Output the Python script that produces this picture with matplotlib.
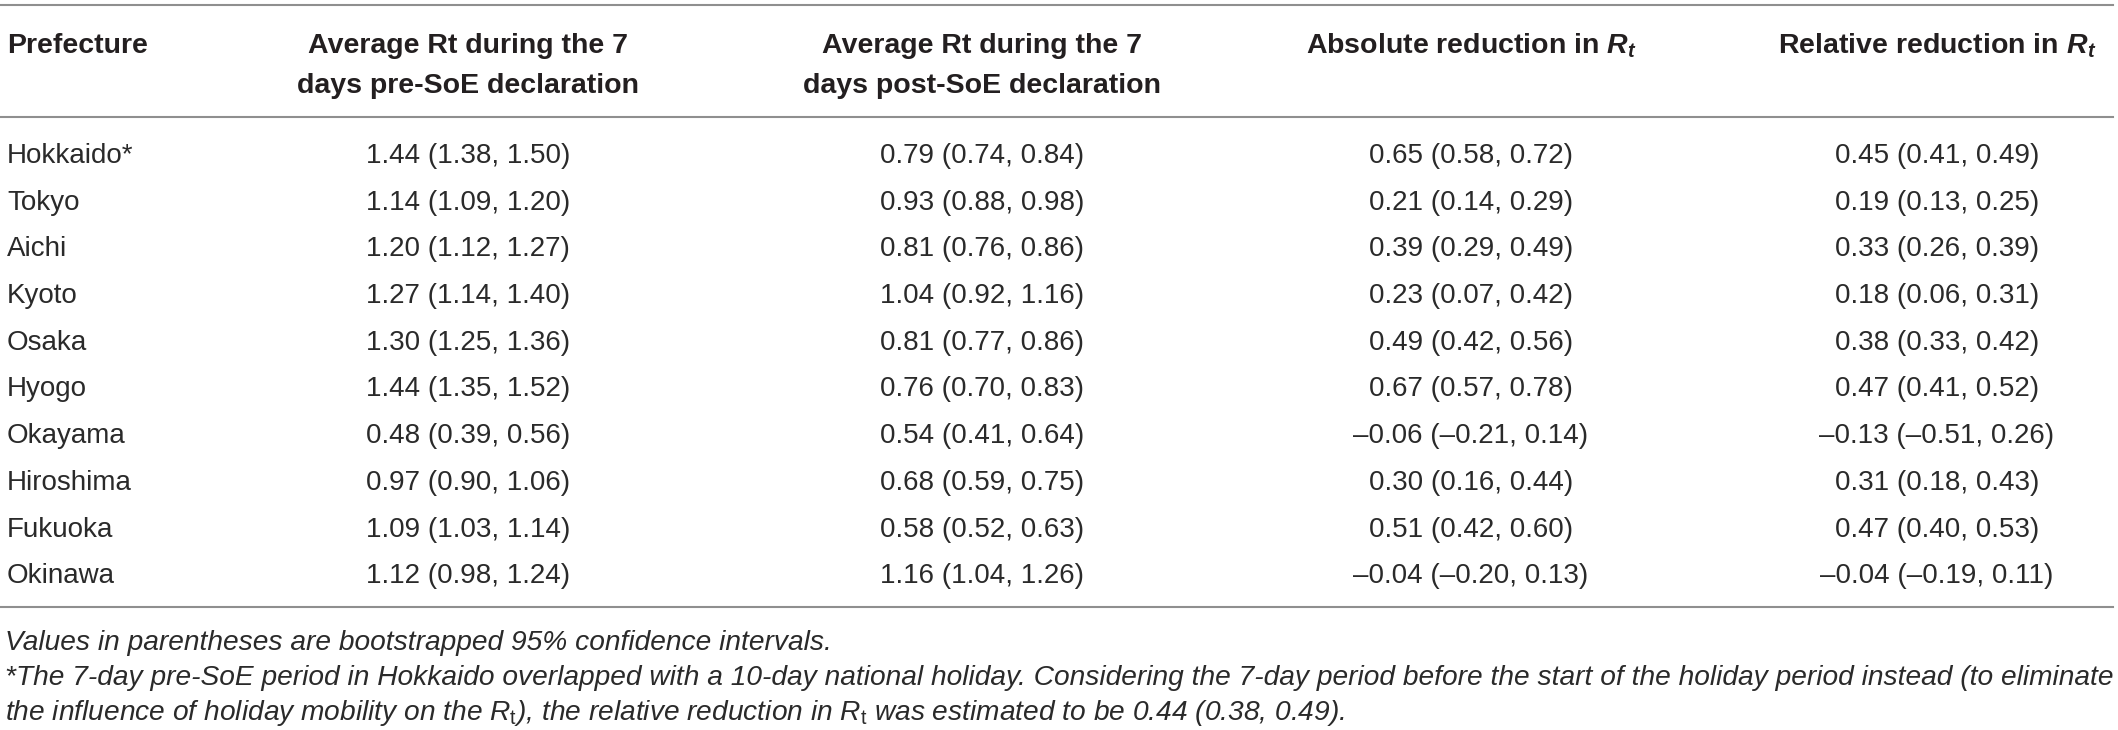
"""
Table: average Rt before/after the SoE declaration by prefecture
"""
import matplotlib.pyplot as plt
from matplotlib import font_manager

prefectures = ['Hokkaido*', 'Tokyo', 'Aichi', 'Kyoto', 'Osaka', 'Hyogo',
               'Okayama', 'Hiroshima', 'Fukuoka', 'Okinawa']
pre_rt = [1.44, 1.14, 1.20, 1.27, 1.30, 1.44, 0.48, 0.97, 1.09, 1.12]
pre_lo = [1.38, 1.09, 1.12, 1.14, 1.25, 1.35, 0.39, 0.90, 1.03, 0.98]
pre_hi = [1.50, 1.20, 1.27, 1.40, 1.36, 1.52, 0.56, 1.06, 1.14, 1.24]
post_rt = [0.79, 0.93, 0.81, 1.04, 0.81, 0.76, 0.54, 0.68, 0.58, 1.16]
post_lo = [0.74, 0.88, 0.76, 0.92, 0.77, 0.70, 0.41, 0.59, 0.52, 1.04]
post_hi = [0.84, 0.98, 0.86, 1.16, 0.86, 0.83, 0.64, 0.75, 0.63, 1.26]
abs_red = [0.65, 0.21, 0.39, 0.23, 0.49, 0.67, -0.06, 0.30, 0.51, -0.04]
abs_lo = [0.58, 0.14, 0.29, 0.07, 0.42, 0.57, -0.21, 0.16, 0.42, -0.20]
abs_hi = [0.72, 0.29, 0.49, 0.42, 0.56, 0.78, 0.14, 0.44, 0.60, 0.13]
rel_red = [0.45, 0.19, 0.33, 0.18, 0.38, 0.47, -0.13, 0.31, 0.47, -0.04]
rel_lo = [0.41, 0.13, 0.26, 0.06, 0.33, 0.41, -0.51, 0.18, 0.40, -0.19]
rel_hi = [0.49, 0.25, 0.39, 0.31, 0.42, 0.52, 0.26, 0.43, 0.53, 0.11]

headers = ['Prefecture',
           'Average Rt during the 7\ndays pre-SoE declaration',
           'Average Rt during the 7\ndays post-SoE declaration',
           r'Absolute reduction in $\mathbfit{R_t}$',
           r'Relative reduction in $\mathbfit{R_t}$']
footnotes = [
    'Values in parentheses are bootstrapped 95% confidence intervals.',
    '*The 7-day pre-SoE period in Hokkaido overlapped with a 10-day national holiday. '
    'Considering the 7-day period before the start of the holiday period instead (to eliminate',
    r'the influence of holiday mobility on the $R_\mathrm{t}$), the relative reduction in '
    r'$R_\mathrm{t}$ was estimated to be 0.44 (0.38, 0.49).',
]


def fmt(v, lo, hi):
    s = f'{v:.2f} ({lo:.2f}, {hi:.2f})'
    return s.replace('-', '\u2013')


if __name__ == "__main__":
    names = {f.name for f in font_manager.fontManager.ttflist}
    sans = 'Liberation Sans'
    narrow = 'Liberation Sans Narrow' if 'Liberation Sans Narrow' in names else sans
    plt.rcParams.update({
        'font.family': [sans, 'DejaVu Sans'],
        'mathtext.fontset': 'custom',
        'mathtext.rm': sans,
        'mathtext.it': f'{sans}:italic',
        'mathtext.bf': f'{sans}:bold',
        'mathtext.bfit': f'{sans}:italic:bold',
    })

    W, H = 2118, 730
    fig = plt.figure(figsize=(W / 100, H / 100), dpi=100)
    ax = fig.add_axes([0, 0, 1, 1])
    ax.set(xlim=(0, W), ylim=(H, 0))
    ax.axis('off')

    rule = dict(color='#8f8f8f', lw=1.5)
    for y in (5, 117, 607):
        ax.plot([0, 2113], [y, y], **rule)

    col_x = [7, 468, 982, 1471, 1937]
    head_color = '#231f20'
    txt_color = '#2a2a2a'

    # header, one text per line
    for i, h in enumerate(headers):
        for k, line in enumerate(h.split('\n')):
            ax.text(col_x[i], 53 + 40 * k, line, ha='left' if i == 0 else 'center',
                    va='baseline', fontsize=20.5, fontweight='bold', color=head_color)

    # rows
    cols = [[fmt(*t) for t in zip(pre_rt, pre_lo, pre_hi)],
            [fmt(*t) for t in zip(post_rt, post_lo, post_hi)],
            [fmt(*t) for t in zip(abs_red, abs_lo, abs_hi)],
            [fmt(*t) for t in zip(rel_red, rel_lo, rel_hi)]]
    row_y0, row_dy = 163, 46.7
    for r, name in enumerate(prefectures):
        y = row_y0 + r * row_dy
        ax.text(col_x[0], y, name, ha='left', va='baseline', fontsize=20,
                color=txt_color)
        for c in range(4):
            ax.text(col_x[c + 1], y, cols[c][r], ha='center', va='baseline',
                    fontsize=20, color=txt_color)

    # footnotes, sized so the long line fills the width
    fig.canvas.draw()
    renderer = fig.canvas.get_renderer()
    probe = ax.text(5, 685, footnotes[1], fontsize=20, style='italic',
                    family=[narrow, 'DejaVu Sans'])
    wpx = probe.get_window_extent(renderer).width
    probe.remove()
    fsize = min(21.5, 20 * 2105 / wpx)
    for y, line in zip((650, 685, 720), footnotes):
        ax.text(5, y, line, ha='left', va='baseline', fontsize=fsize,
                style='italic', family=[narrow, 'DejaVu Sans'], color=txt_color)

    fig.savefig('out.png', dpi=100, facecolor='white')
